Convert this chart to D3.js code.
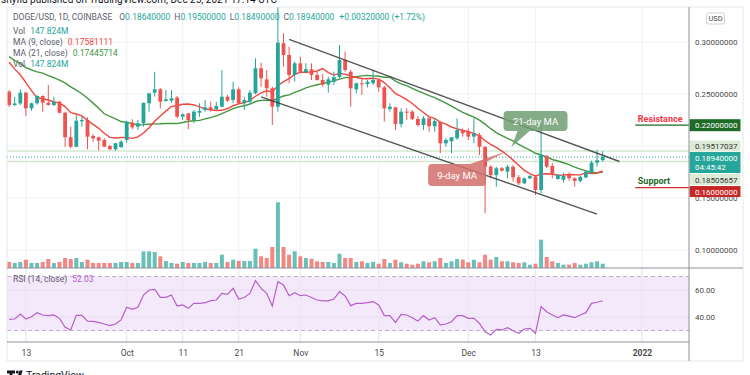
<!DOCTYPE html>
<html>
<head>
<meta charset="utf-8">
<title>DOGE/USD 1D</title>
<script src="https://cdn.jsdelivr.net/npm/d3@7"></script>
<style>
  body { margin: 0; background: #fff; overflow: hidden; }
  svg { display: block; }
  text { font-family: Roboto, "Liberation Sans", Arial, sans-serif; }
</style>
</head>
<body>
<script>
// daily candles, Sep 10 2021 .. Dec 25 2021
const firstDay = '2021-09-10';
const opens = [0.2522,0.2394,0.2409,0.2513,0.2362,0.2411,0.2481,0.2416,0.2394,0.2426,
  0.2320,0.2084,0.1993,0.2237,0.2250,0.2096,0.2084,0.2058,0.2000,0.1968,
  0.1990,0.2058,0.2224,0.2186,0.2218,0.2411,0.2513,0.2545,0.2433,0.2436,
  0.2465,0.2282,0.2314,0.2250,0.2320,0.2346,0.2372,0.2353,0.2378,0.2474,
  0.2442,0.2545,0.2411,0.2426,0.2507,0.2747,0.2641,0.2555,0.2378,0.2988,
  0.2875,0.2683,0.2795,0.2712,0.2738,0.2683,0.2635,0.2590,0.2618,0.2663,
  0.2827,0.2714,0.2545,0.2603,0.2596,0.2603,0.2635,0.2564,0.2356,0.2372,
  0.2212,0.2330,0.2330,0.2260,0.2202,0.2266,0.2190,0.2234,0.2026,0.2045,
  0.2074,0.2154,0.2138,0.2090,0.2106,0.1993,0.1801,0.1721,0.1786,0.1753,
  0.1801,0.1699,0.1641,0.1689,0.1705,0.1577,0.1904,0.1808,0.1683,0.1675,
  0.1728,0.1690,0.1664,0.1698,0.1745,0.1840,0.1864];
const highs = [0.2538,0.2474,0.2545,0.2519,0.2416,0.2487,0.2487,0.2587,0.2474,0.2436,
  0.2330,0.2186,0.2298,0.2288,0.2276,0.2115,0.2090,0.2074,0.2010,0.2032,
  0.2058,0.2243,0.2257,0.2250,0.2416,0.2507,0.2714,0.2558,0.2538,0.2538,
  0.2481,0.2314,0.2314,0.2346,0.2411,0.2442,0.2426,0.2426,0.2731,0.2490,
  0.2618,0.2564,0.2474,0.2538,0.2843,0.2801,0.2731,0.2570,0.3337,0.3084,
  0.2955,0.2811,0.2859,0.2795,0.2795,0.2712,0.2692,0.2666,0.2714,0.2971,
  0.2907,0.2731,0.2609,0.2651,0.2635,0.2731,0.2641,0.2577,0.2411,0.2378,
  0.2362,0.2362,0.2346,0.2288,0.2288,0.2282,0.2266,0.2234,0.2074,0.2084,
  0.2266,0.2170,0.2170,0.2266,0.2128,0.1993,0.1817,0.1801,0.1798,0.1817,
  0.1817,0.1721,0.1699,0.1721,0.1721,0.2250,0.1913,0.1834,0.1731,0.1745,
  0.1745,0.1698,0.1713,0.1762,0.1858,0.1962,0.1950];
const lows = [0.2375,0.2385,0.2394,0.2288,0.2339,0.2397,0.2330,0.2390,0.2385,0.2314,
  0.1993,0.1978,0.1988,0.2186,0.1968,0.2041,0.1955,0.1988,0.1962,0.1955,
  0.1981,0.2032,0.2161,0.2154,0.2186,0.2330,0.2474,0.2362,0.2426,0.2416,
  0.2266,0.2250,0.2161,0.2218,0.2282,0.2330,0.2330,0.2346,0.2372,0.2426,
  0.2411,0.2404,0.2346,0.2394,0.2500,0.2570,0.2474,0.2202,0.2330,0.2763,
  0.2603,0.2618,0.2699,0.2699,0.2635,0.2628,0.2570,0.2513,0.2587,0.2651,
  0.2714,0.2378,0.2507,0.2490,0.2564,0.2587,0.2522,0.2234,0.2330,0.2154,
  0.2180,0.2250,0.2250,0.2186,0.2154,0.2138,0.2138,0.1930,0.1993,0.1930,
  0.2058,0.2090,0.2058,0.2026,0.1913,0.1353,0.1689,0.1609,0.1755,0.1689,
  0.1657,0.1625,0.1635,0.1683,0.1529,0.1545,0.1786,0.1689,0.1676,0.1650,
  0.1665,0.1610,0.1650,0.1690,0.1730,0.1801,0.1849];
const closes = [0.2394,0.2409,0.2513,0.2362,0.2411,0.2481,0.2416,0.2394,0.2426,0.2320,
  0.2084,0.1993,0.2243,0.2250,0.2090,0.2074,0.2051,0.1993,0.1968,0.2026,
  0.2041,0.2234,0.2180,0.2218,0.2416,0.2507,0.2545,0.2426,0.2449,0.2459,
  0.2282,0.2305,0.2250,0.2330,0.2337,0.2372,0.2353,0.2385,0.2474,0.2436,
  0.2545,0.2411,0.2442,0.2513,0.2747,0.2651,0.2555,0.2378,0.2993,0.2875,
  0.2683,0.2795,0.2714,0.2738,0.2683,0.2635,0.2590,0.2641,0.2661,0.2827,
  0.2731,0.2555,0.2603,0.2596,0.2618,0.2635,0.2564,0.2362,0.2378,0.2212,
  0.2330,0.2320,0.2260,0.2202,0.2266,0.2190,0.2240,0.2026,0.2058,0.2084,
  0.2154,0.2122,0.2090,0.2122,0.1993,0.1801,0.1721,0.1786,0.1763,0.1801,
  0.1699,0.1641,0.1689,0.1712,0.1577,0.1913,0.1801,0.1721,0.1722,0.1712,
  0.1690,0.1664,0.1703,0.1754,0.1840,0.1862,0.1894];
// volume in millions
const volumes = [207,173,207,286,173,173,207,311,173,207,
  345,311,345,207,286,173,173,173,173,173,
  207,207,173,173,576,576,552,404,242,173,
  148,207,173,173,173,207,173,173,459,207,
  286,242,242,242,666,404,345,725,2267,725,
  459,576,404,345,321,231,207,207,173,493,
  345,345,207,231,173,207,148,311,173,286,
  197,148,114,148,231,197,231,345,173,231,
  311,286,197,286,197,459,286,380,231,231,
  197,173,197,114,148,976,380,231,173,114,
  114,173,114,148,197,231,147.824];
// RSI(14)
const rsiValues = [38.3,38.5,42.2,38.5,40.2,43.2,41.5,41.0,41.5,39.0,
  32.4,30.4,41.2,41.2,37.0,36.8,36.0,34.8,33.6,34.8,
  37.8,47.2,45.7,47.2,56.3,60.0,60.5,54.6,54.6,56.3,
  48.1,48.9,46.4,50.1,50.1,50.6,52.1,52.6,57.5,56.8,
  61.2,53.3,54.4,57.5,66.9,61.2,57.5,48.1,66.2,63.7,
  55.8,58.0,55.8,56.3,54.4,52.6,51.9,51.9,53.3,58.8,
  55.6,48.4,50.1,50.1,50.6,51.4,48.9,41.0,41.0,36.0,
  42.0,41.5,39.5,37.0,41.0,37.8,39.5,34.1,34.8,36.5,
  41.0,41.0,39.0,39.0,35.3,29.1,26.7,30.9,30.4,32.1,
  29.8,27.9,31.1,31.6,27.9,47.7,43.9,41.5,39.5,41.5,
  40.7,39.5,41.5,43.2,50.1,50.9,52.03];
// closes Aug 21 .. Sep 9 (before the visible range), only used to warm up the MAs
const warmupCloses = [0.318,0.316,0.315,0.285,0.290,0.268,0.289,0.285,0.280,0.266,
  0.277,0.290,0.300,0.300,0.305,0.310,0.310,0.250,0.250,0.260];

const priceTicks = [0.10, 0.15, 0.20, 0.25, 0.30];
const rsiTicks = [40, 60];
const rsiBand = [30, 70];
const timeTickDates = ['2021-09-13','2021-10-01','2021-10-11','2021-10-21','2021-11-01','2021-11-15','2021-12-01','2021-12-13','2022-01-01'];
const timeTickLabels = ['13','Oct','11','21','Nov','15','Dec','13','2022'];

// drawings on the chart
const channelUpper = [['2021-10-30', 0.3026], ['2021-12-28', 0.1851]];
const channelLower = [['2021-10-25', 0.2473], ['2021-12-24', 0.1345]];
const resistance = 0.22, support = 0.16, levelFrom = '2021-12-31';
const markerLevels = [0.19517037, 0.18505657];
const legendMA = [0.17581111, 0.17445714];
const countdown = '04:45:42';

// ---------- setup ----------
let width = 750, height = 375;
let frameL = 7, frameT = 7, frameR = 743, frameB = 361;
let axisX = 689, mainBottom = 268, rsiBottom = 342;
let upColor = '#26a69a', downColor = '#ef5350', grayText = '#5d606b', gridColor = '#eef1f6';
let parseDay = d3.utcParse('%Y-%m-%d');
let fmt8 = d3.format('.8f');

let dates = closes.map((c, i) => d3.utcDay.offset(parseDay(firstDay), i));
let last = closes.length - 1;

let x = d3.scaleUtc().domain([dates[0], dates[last]]).range([9.1, 9.1 + 5.6 * last]);
let y = d3.scaleLinear().domain([0.10, 0.30]).range([250, 42]);
let volY = d3.scaleLinear().domain([0, 2300]).range([mainBottom, mainBottom - 66.7]);
let rsiY = d3.scaleLinear().domain([30, 70]).range([330.5, 276.5]);

let svg = d3.select('body').append('svg')
  .attr('width', width)
  .attr('height', height)
  .style('background', '#fff');

let defs = svg.append('defs');
defs.append('clipPath').attr('id', 'mainClip').append('rect')
  .attr('x', frameL).attr('y', frameT).attr('width', axisX - frameL).attr('height', mainBottom - frameT);
defs.append('clipPath').attr('id', 'rsiClip').append('rect')
  .attr('x', frameL).attr('y', mainBottom).attr('width', axisX - frameL).attr('height', rsiBottom - mainBottom);

// ---------- grid ----------
let grid = svg.append('g');
grid.selectAll('.hgrid').data(priceTicks).join('line')
  .attr('x1', frameL).attr('x2', axisX)
  .attr('y1', d => y(d)).attr('y2', d => y(d))
  .attr('stroke', gridColor);
grid.selectAll('.vgrid').data(timeTickDates).join('line')
  .attr('x1', d => x(parseDay(d))).attr('x2', d => x(parseDay(d)))
  .attr('y1', frameT).attr('y2', rsiBottom)
  .attr('stroke', gridColor);

// ---------- RSI pane ----------
let rsiG = svg.append('g').attr('clip-path', 'url(#rsiClip)');
rsiG.append('rect')
  .attr('x', frameL).attr('width', axisX - frameL)
  .attr('y', rsiY(rsiBand[1])).attr('height', rsiY(rsiBand[0]) - rsiY(rsiBand[1]))
  .attr('fill', '#f4e9fb');
rsiG.selectAll('.rgrid').data(rsiTicks).join('line')
  .attr('x1', frameL).attr('x2', axisX)
  .attr('y1', d => rsiY(d)).attr('y2', d => rsiY(d))
  .attr('stroke', '#e7dcef');
rsiG.selectAll('.rband').data(rsiBand).join('line')
  .attr('x1', frameL).attr('x2', axisX)
  .attr('y1', d => rsiY(d)).attr('y2', d => rsiY(d))
  .attr('stroke', '#bcaec8').attr('stroke-dasharray', '4,3');
rsiG.selectAll('.vg2').data(timeTickDates).join('line')
  .attr('x1', d => x(parseDay(d))).attr('x2', d => x(parseDay(d)))
  .attr('y1', mainBottom).attr('y2', rsiBottom)
  .attr('stroke', '#ece4f3');
rsiG.append('path')
  .datum(rsiValues)
  .attr('fill', 'none')
  .attr('stroke', '#b55fc9')
  .attr('stroke-width', 1.2)
  .attr('d', d3.line().x((d, i) => x(dates[i])).y(d => rsiY(d)));

// ---------- main pane ----------
let mainG = svg.append('g').attr('clip-path', 'url(#mainClip)');

// marker levels + last price line
mainG.selectAll('.mk').data(markerLevels).join('line')
  .attr('x1', frameL).attr('x2', axisX)
  .attr('y1', d => y(d)).attr('y2', d => y(d))
  .attr('stroke', '#d5e8cf').attr('stroke-width', 1.6);
mainG.append('line')
  .attr('x1', frameL).attr('x2', axisX)
  .attr('y1', y(closes[last])).attr('y2', y(closes[last]))
  .attr('stroke', upColor).attr('stroke-dasharray', '1,2');

// volume
let isUp = i => closes[i] >= opens[i];
mainG.selectAll('.vol').data(volumes).join('rect')
  .attr('x', (d, i) => x(dates[i]) - 2)
  .attr('width', 4)
  .attr('y', d => volY(d))
  .attr('height', d => mainBottom - volY(d))
  .attr('fill', (d, i) => isUp(i) ? upColor : downColor)
  .attr('opacity', 0.7);

// moving averages
let allCloses = warmupCloses.concat(closes);
let offset = warmupCloses.length;
let movingAvg = n => closes.map((c, i) => d3.mean(allCloses.slice(i + offset - n + 1, i + offset + 1)));
let maLine = d3.line().x((d, i) => x(dates[i])).y(d => y(d));
mainG.append('path').datum(movingAvg(21))
  .attr('fill', 'none').attr('stroke', '#43973f').attr('stroke-width', 1.4).attr('d', maLine);
mainG.append('path').datum(movingAvg(9))
  .attr('fill', 'none').attr('stroke', '#f0473f').attr('stroke-width', 1.4).attr('d', maLine);

// candles
let candles = mainG.selectAll('.candle').data(closes).join('g');
candles.append('line')
  .attr('x1', (d, i) => x(dates[i])).attr('x2', (d, i) => x(dates[i]))
  .attr('y1', (d, i) => y(highs[i])).attr('y2', (d, i) => y(lows[i]))
  .attr('stroke', (d, i) => isUp(i) ? upColor : downColor);
candles.append('rect')
  .attr('x', (d, i) => x(dates[i]) - 1.9)
  .attr('width', 3.8)
  .attr('y', (d, i) => y(Math.max(opens[i], closes[i])))
  .attr('height', (d, i) => Math.max(1, Math.abs(y(opens[i]) - y(closes[i]))))
  .attr('fill', (d, i) => isUp(i) ? upColor : downColor);

// channel
[channelUpper, channelLower].forEach(ch => {
  mainG.append('line')
    .attr('x1', x(parseDay(ch[0][0]))).attr('y1', y(ch[0][1]))
    .attr('x2', x(parseDay(ch[1][0]))).attr('y2', y(ch[1][1]))
    .attr('stroke', '#3a3a3a').attr('stroke-width', 1.4).attr('opacity', 0.85);
});

// callouts
let callouts = [
  {text: '21-day MA', date: '2021-12-13', price: 0.2240, w: 64, h: 20, fill: '#6f9e72',
   tail: [[-18, 10], [-6, 10]], tipDate: '2021-12-08', tipShift: 0.7, tipPrice: 0.1990},
  {text: '9-day MA', date: '2021-11-29', price: 0.1721, w: 58, h: 22, fill: '#d46f6d',
   tail: [[13, -11], [25, -11]], tipDate: '2021-12-08', tipShift: 0, tipPrice: 0.1952}
];
callouts.forEach(c => {
  let cx = x(parseDay(c.date)), cy = y(c.price);
  let tx = x(d3.utcHour.offset(parseDay(c.tipDate), Math.round(c.tipShift * 24))), ty = y(c.tipPrice);
  let g = mainG.append('g').attr('opacity', 0.85);
  g.append('path')
    .attr('d', `M${cx + c.tail[0][0]},${cy + c.tail[0][1]}L${tx},${ty}L${cx + c.tail[1][0]},${cy + c.tail[1][1]}Z`)
    .attr('fill', c.fill);
  g.append('rect')
    .attr('x', cx - c.w / 2).attr('y', cy - c.h / 2)
    .attr('width', c.w).attr('height', c.h).attr('rx', 4)
    .attr('fill', c.fill);
  mainG.append('text')
    .attr('x', cx).attr('y', cy + 3.5)
    .attr('text-anchor', 'middle')
    .attr('font-size', 9.5)
    .attr('fill', '#fff')
    .text(c.text);
});

// resistance / support
let lvlX = x(parseDay(levelFrom));
[[resistance, 'Resistance', '#f23645', '#1e6b28'], [support, 'Support', '#1e6b28', '#d32f2f']].forEach(([v, t, tc, lc]) => {
  svg.append('line')
    .attr('x1', lvlX - 1).attr('x2', axisX)
    .attr('y1', y(v)).attr('y2', y(v))
    .attr('stroke', lc).attr('stroke-width', 1.3);
  svg.append('text')
    .attr('x', lvlX + 1.5).attr('y', y(v) - 3.5)
    .attr('font-size', 9).attr('font-weight', 'bold')
    .attr('fill', tc).text(t);
});

// ---------- legend ----------
let legend = svg.append('g').attr('font-size', 8.5);
let row1 = legend.append('text').attr('x', 13).attr('y', 20);
row1.append('tspan').attr('fill', grayText).text('DOGE/USD, 1D, COINBASE');
[['O', opens], ['H', highs], ['L', lows], ['C', closes]].forEach(([k, arr], j) => {
  row1.append('tspan').attr('dx', j ? 4 : 7).attr('fill', grayText).text(k);
  row1.append('tspan').attr('fill', upColor).text(fmt8(arr[last]));
});
let change = closes[last] - closes[last - 1];
row1.append('tspan').attr('dx', 5).attr('fill', upColor)
  .text(`+${fmt8(change)} (+${d3.format('.2f')(change / closes[last - 1] * 100)}%)`);

let volText = d3.format('.3f')(volumes[last]) + 'M';
let rows = [
  ['Vol', volText, upColor, 34],
  ['MA (9, close)', fmt8(legendMA[0]), '#f0473f', 45],
  ['MA (21, close)', fmt8(legendMA[1]), '#43973f', 56],
  ['Vol', volText, upColor, 67]
];
rows.forEach(([k, v, c, ry]) => {
  let t = legend.append('text').attr('x', 13).attr('y', ry);
  t.append('tspan').attr('fill', grayText).text(k);
  t.append('tspan').attr('dx', 5).attr('fill', c).text(v);
});
let rsiLegend = legend.append('text').attr('x', 13).attr('y', 282);
rsiLegend.append('tspan').attr('fill', grayText).text('RSI (14, close)');
rsiLegend.append('tspan').attr('dx', 5).attr('fill', '#b55fc9').text(d3.format('.2f')(rsiValues[last]));

// ---------- axes ----------
svg.append('rect').attr('x', axisX).attr('y', frameT).attr('width', frameR - axisX).attr('height', frameB - frameT).attr('fill', '#fff');

let yAxis = d3.axisRight(y).tickValues(priceTicks).tickFormat(fmt8).tickSize(0).tickPadding(6);
svg.append('g')
  .attr('transform', `translate(${axisX},0)`)
  .call(yAxis)
  .call(g => g.select('.domain').remove())
  .selectAll('text').attr('font-size', 8).attr('font-family', null).attr('fill', '#4a4a4a');

let rsiAxis = d3.axisRight(rsiY).tickValues(rsiTicks).tickFormat(d3.format('.2f')).tickSize(0).tickPadding(6);
svg.append('g')
  .attr('transform', `translate(${axisX},0)`)
  .call(rsiAxis)
  .call(g => g.select('.domain').remove())
  .selectAll('text').attr('font-size', 8).attr('font-family', null).attr('fill', '#4a4a4a');

let xAxis = d3.axisBottom(x)
  .tickValues(timeTickDates.map(parseDay))
  .tickFormat((d, i) => timeTickLabels[i])
  .tickSize(0).tickPadding(8);
svg.append('g')
  .attr('transform', `translate(0,${rsiBottom})`)
  .call(xAxis)
  .call(g => g.select('.domain').remove())
  .selectAll('text')
  .attr('font-size', 8.5).attr('font-family', null).attr('fill', '#4a4a4a')
  .attr('font-weight', (d, i) => timeTickLabels[i] === '2022' ? 'bold' : null);

// price labels on the axis, pushed apart like the platform does
let priceLabels = [
  {v: resistance, bg: '#1e6b28', fg: '#fff', h: 12},
  {v: markerLevels[0], bg: '#dcebd7', fg: '#333', h: 11},
  {v: closes[last], bg: upColor, fg: '#fff', h: 21, main: true},
  {v: markerLevels[1], bg: '#dcebd7', fg: '#333', h: 11},
  {v: support, bg: '#c62828', fg: '#fff', h: 11}
];
let mainIdx = priceLabels.findIndex(d => d.main);
priceLabels[mainIdx].top = y(priceLabels[mainIdx].v) - 5;
for (let i = mainIdx - 1; i >= 0; i--) {
  let d = priceLabels[i];
  let bottomY = Math.min(y(d.v) + d.h / 2, priceLabels[i + 1].top - 0.5);
  d.top = bottomY - d.h;
}
for (let i = mainIdx + 1; i < priceLabels.length; i++) {
  let d = priceLabels[i], prev = priceLabels[i - 1];
  d.top = Math.max(y(d.v) - d.h / 2, prev.top + prev.h + 1);
}
priceLabels.forEach(d => {
  svg.append('rect')
    .attr('x', axisX + 0.5).attr('y', d.top)
    .attr('width', 51).attr('height', d.h)
    .attr('fill', d.bg);
  svg.append('text')
    .attr('x', axisX + 6).attr('y', d.top + 8.5)
    .attr('font-size', 8).attr('fill', d.fg)
    .text(fmt8(d.v));
  if (d.main) {
    svg.append('text')
      .attr('x', axisX + 6).attr('y', d.top + 18)
      .attr('font-size', 8).attr('fill', d.fg)
      .text(countdown);
  }
});

// currency badge
svg.append('rect').attr('x', 706.5).attr('y', 13).attr('width', 18).attr('height', 11).attr('rx', 2)
  .attr('fill', '#fff').attr('stroke', '#cfd2d8');
svg.append('text').attr('x', 715.5).attr('y', 21.2).attr('text-anchor', 'middle')
  .attr('font-size', 7.5).attr('fill', '#4a4a4a').text('USD');

// ---------- frame / separators ----------
svg.append('rect')
  .attr('x', frameL).attr('y', frameT).attr('width', frameR - frameL).attr('height', frameB - frameT)
  .attr('fill', 'none').attr('stroke', '#e6e8ec');
svg.append('line').attr('x1', frameL).attr('x2', frameR).attr('y1', mainBottom).attr('y2', mainBottom).attr('stroke', '#8d9099');
svg.append('line').attr('x1', frameL).attr('x2', axisX).attr('y1', rsiBottom).attr('y2', rsiBottom).attr('stroke', '#8d9099');
svg.append('line').attr('x1', axisX).attr('x2', axisX).attr('y1', frameT).attr('y2', frameB).attr('stroke', '#8d9099');

// ---------- header / footer ----------
svg.append('text').attr('x', 1).attr('y', 2.5).attr('font-size', 10).attr('fill', '#131722')
  .text('shyfid published on TradingView.com, Dec 25, 2021 17:14 UTC');
let logo = svg.append('g').attr('fill', '#131722');
logo.append('path').attr('d', 'M7,370.5h8v3h-2.6v6h-2.8v-6H7z');
logo.append('circle').attr('cx', 17.3).attr('cy', 372).attr('r', 1.5);
logo.append('path').attr('d', 'M19.5,370.5h3.2l-3,9h-3z');
svg.append('text').attr('x', 26).attr('y', 379).attr('font-size', 10.5).attr('fill', '#131722').text('TradingView');
</script>
</body>
</html>
